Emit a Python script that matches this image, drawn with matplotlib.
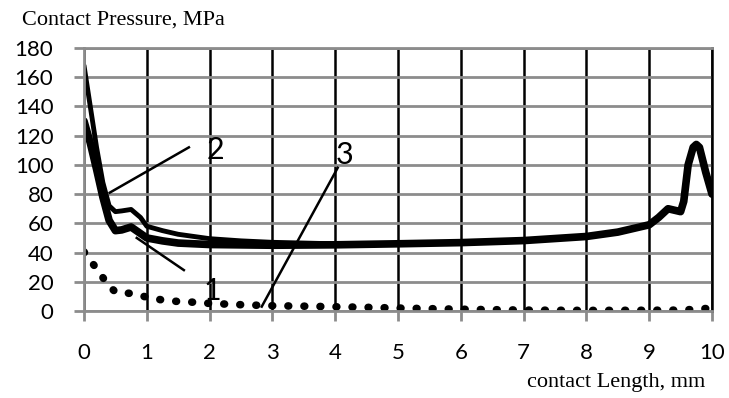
import numpy as np
import matplotlib.pyplot as plt

# contact pressure curves
x1 = [0, 0.1, 0.2, 0.3, 0.4, 0.5, 0.6, 0.75, 0.9, 1.0, 1.25, 1.5, 2, 3, 4, 5, 6, 7, 8,
      8.5, 9, 9.15, 9.3, 9.4, 9.5, 9.55, 9.62, 9.7, 9.75, 9.8, 9.9, 10]
y1 = [130, 115, 97, 78, 62, 55, 55.5, 57.5, 53, 50, 48, 46.5, 45.5, 45, 45.3, 46, 46.8, 48.2, 51,
      54, 59, 64, 70, 69, 68, 75, 100, 112, 114, 112, 95, 80]

x2 = [0, 0.1, 0.2, 0.3, 0.4, 0.5, 0.6, 0.75, 0.9, 1.0, 1.25, 1.5, 2, 2.5, 3, 3.5, 4, 5]
y2 = [168, 140, 112, 88, 72, 68, 68.5, 69.5, 64, 58, 55, 52.5, 49.5, 48, 47, 46.5, 46, 46.3]

x3 = [0, 0.13, 0.25, 0.38, 0.5, 0.75, 1, 1.25, 1.5, 1.75, 2, 2.5, 3, 3.5, 4, 4.5, 5,
      6, 7, 8, 9, 9.5, 9.75, 10]
y3 = [40.5, 33, 26, 18, 13, 12, 9.5, 7.5, 6.5, 6, 5.2, 4.3, 3.6, 3.3, 2.9, 2.5, 2,
      1.2, 0.6, 0.4, 0.5, 0.6, 1.2, 2]

# leader lines and labels
labels = ['2', '1', '3']
lead_x = [(0.41, 1.67), (0.84, 1.59), (2.83, 4.04)]
lead_y = [(81, 112), (50, 28), (3, 98)]
lab_x = [1.95, 1.9, 4.0]
lab_y = [110, 14, 107]

xticks = list(range(0, 11))
yticks = list(range(0, 181, 20))

fig = plt.figure(figsize=(7.29, 3.98), dpi=100)
ax = fig.add_axes([84/729, 1-311/398, (712-84)/729, (311-48)/398])

ax.plot(x3, y3, color='black', lw=5.5, linestyle=(0, (0.1, 2.0)), dash_capstyle='round')
ax.plot(x2, y2, color='black', lw=3.5, solid_capstyle='round', solid_joinstyle='round')
ax.plot(x1, y1, color='black', lw=5.5, solid_capstyle='round', solid_joinstyle='round')

for lx, ly in zip(lead_x, lead_y):
    ax.plot(lx, ly, color='black', lw=1.8)
for t, tx, ty in zip(labels, lab_x, lab_y):
    ax.text(tx, ty, t, fontsize=22, family='Lato', ha='left', va='center')

ax.set_xlim(0, 10)
ax.set_ylim(0, 180)
ax.set_xticks(xticks)
ax.set_yticks(yticks)
ax.set_xticklabels([str(v) for v in xticks], fontsize=16, family='Lato')
ax.set_yticklabels([str(v) for v in yticks], fontsize=16, family='Lato')

ax.yaxis.grid(True, color='#8c8c8c', lw=2)
ax.xaxis.grid(True, color='black', lw=1.8)
ax.set_axisbelow(True)
ax.tick_params(axis='x', color='#8c8c8c', width=2, length=7, direction='out', pad=16)
ax.tick_params(axis='y', color='#8c8c8c', width=2, length=7, direction='out', pad=15)

for s in ['left', 'bottom', 'top']:
    ax.spines[s].set_color('#8c8c8c')
    ax.spines[s].set_linewidth(2)
ax.spines['right'].set_color('black')
ax.spines['right'].set_linewidth(1.8)

fig.text(22/729, 1-20/398, 'Contact Pressure, MPa', fontsize=16, family='Liberation Serif',
         ha='left', va='center')
fig.text(705/729, 1-383/398, 'contact Length, mm', fontsize=16, family='Liberation Serif',
         ha='right', va='center')

fig.savefig('out.png', dpi=100)
